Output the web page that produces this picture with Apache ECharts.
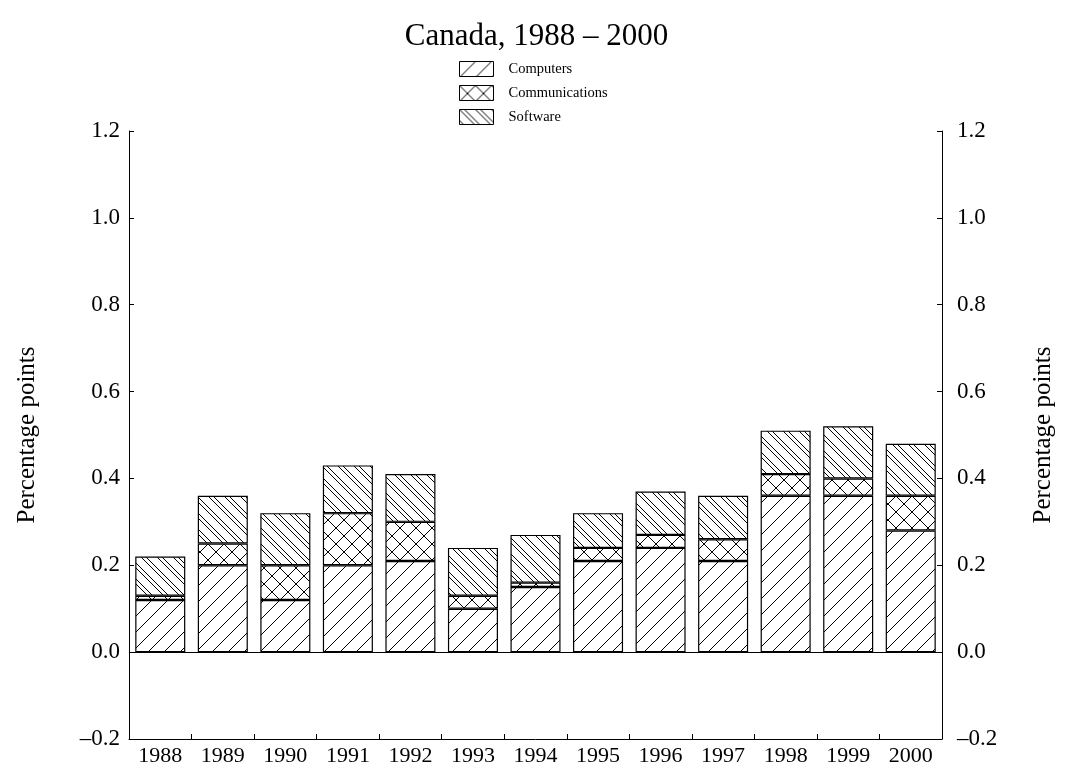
<!DOCTYPE html>
<html><head><meta charset="utf-8">
<script src="https://cdn.jsdelivr.net/npm/echarts@6/dist/echarts.min.js"></script>
<style>html,body{margin:0;padding:0;background:#fff}#c{width:1073px;height:773px}</style>
</head><body><div id="c"></div>
<script>
const years = ['1988','1989','1990','1991','1992','1993','1994','1995','1996','1997','1998','1999','2000'];
const computers = [0.12,0.20,0.12,0.20,0.21,0.10,0.15,0.21,0.24,0.21,0.36,0.36,0.28];
const communications = [0.01,0.05,0.08,0.12,0.09,0.03,0.01,0.03,0.03,0.05,0.05,0.04,0.08];
const software = [0.09,0.11,0.12,0.11,0.11,0.11,0.11,0.08,0.10,0.10,0.10,0.12,0.12];
const yTicks = [-0.2,0,0.2,0.4,0.6,0.8,1.0,1.2];

function makePattern(kind){
  const s = 16;
  const c = document.createElement('canvas');
  c.width = s; c.height = s;
  const g = c.getContext('2d');
  g.fillStyle = '#fff'; g.fillRect(0,0,s,s);
  g.strokeStyle = '#000'; g.lineWidth = 1;
  function fwd(off){
    for (const d of [-s,0,s]) { g.beginPath(); g.moveTo(off+d, s); g.lineTo(off+d+s, 0); g.stroke(); }
  }
  function back(off){
    for (const d of [-s,0,s]) { g.beginPath(); g.moveTo(off+d, 0); g.lineTo(off+d+s, s); g.stroke(); }
  }
  if (kind === 'comp') fwd(0);
  else if (kind === 'comm') { fwd(0); back(0); }
  else { back(0); back(5); }
  return {image: c, repeat: 'repeat'};
}

const font = '"Liberation Serif","Times New Roman",serif';
const chart = echarts.init(document.getElementById('c'), null, {renderer:'canvas'});
const fmt = v => {
  const r = Math.round(v*10)/10;
  return r < 0 ? '\u2013' + Math.abs(r).toFixed(1) : r.toFixed(1);
};
function yAx(pos, margin, gap){
  return {
    type:'value', position:pos, min:yTicks[0], max:yTicks[yTicks.length-1], interval:0.2,
    name:'Percentage points', nameLocation:'middle', nameGap:gap,
    nameTextStyle:{fontFamily:font, fontSize:25, color:'#000'},
    axisLine:{show:true, lineStyle:{color:'#000', width:1}},
    axisTick:{show:true, inside:true, length:5, lineStyle:{color:'#000'}},
    axisLabel:{fontFamily:font, fontSize:23, color:'#000', margin:margin, formatter:fmt},
    splitLine:{show:false}
  };
}
const bs = (name, data, kind) => ({
  name, type:'bar', stack:'t', data, barCategoryGap:'20%',
  itemStyle:{color:makePattern(kind), borderColor:'#000', borderWidth:1.2},
  emphasis:{disabled:true}
});
const sComp = bs('Computers', computers, 'comp');
sComp.markLine = {silent:true, symbol:'none', label:{show:false},
  lineStyle:{color:'#000', type:'solid', width:1.2}, data:[{yAxis:0}]};
chart.setOption({
  animation:false,
  backgroundColor:'#fff',
  title:{text:'Canada, 1988 \u2013 2000', left:'center', top:16,
    textStyle:{fontFamily:font, fontSize:31, fontWeight:'normal', color:'#000'}},
  legend:{orient:'vertical', left:459, top:61, itemWidth:34, itemHeight:15, itemGap:8,
    icon:'rect', padding:0,
    textStyle:{fontFamily:font, fontSize:14.5, color:'#000', padding:[0,0,0,10]},
    itemStyle:{borderColor:'#000', borderWidth:1},
    data:['Computers','Communications','Software']},
  grid:{left:129, right:131, top:131, bottom:34},
  xAxis:{type:'category', data:years,
    axisLine:{show:true, onZero:false, lineStyle:{color:'#000'}},
    axisTick:{show:true, inside:true, length:5, lineStyle:{color:'#000'}},
    axisLabel:{fontFamily:font, fontSize:22, color:'#000', margin:6}},
  yAxis:[yAx('left', 9, 89), yAx('right', 15, 89)],
  series:[sComp, bs('Communications', communications, 'comm'), bs('Software', software, 'sw')]
});
</script></body></html>
